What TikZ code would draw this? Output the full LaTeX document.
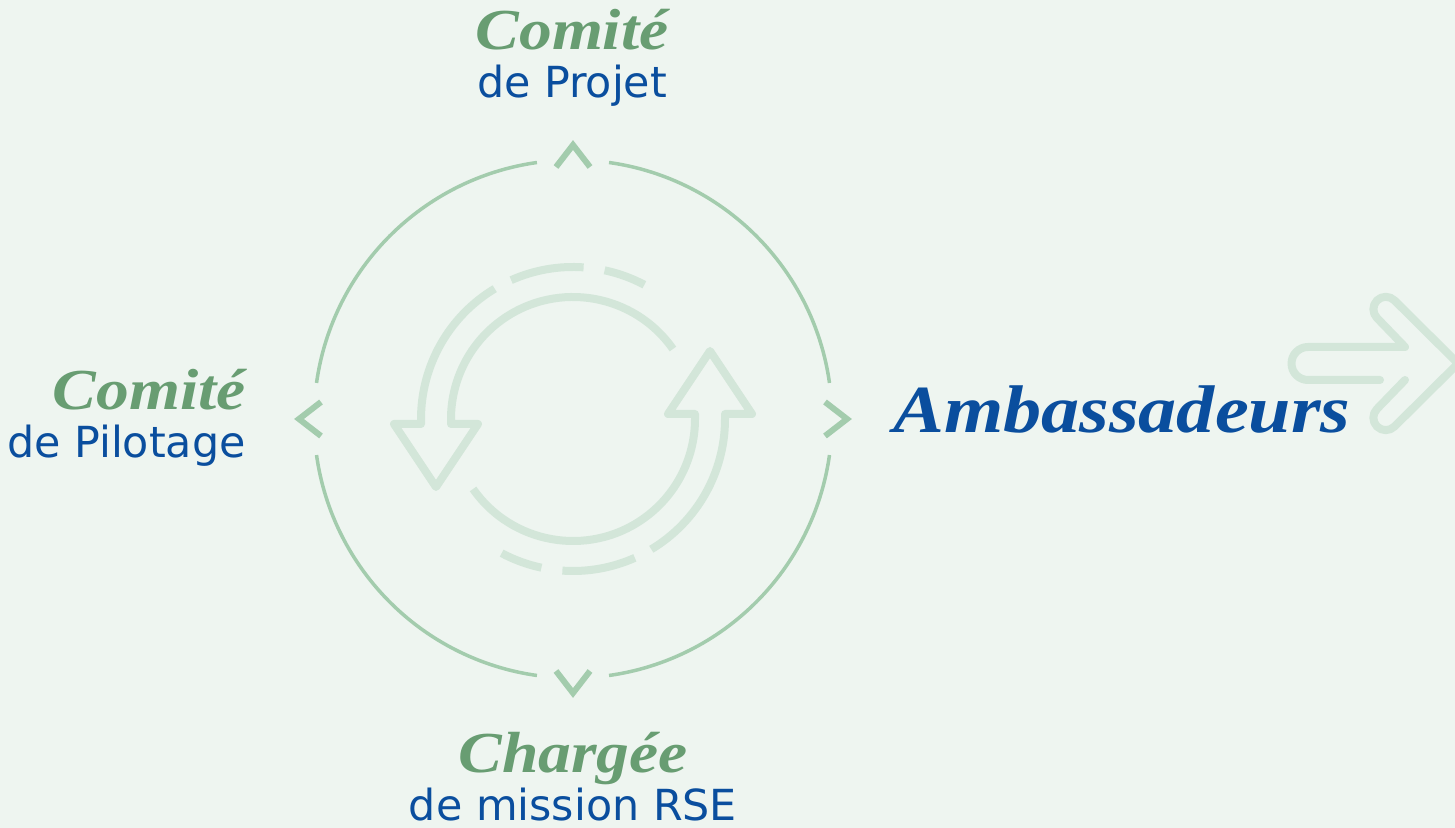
\documentclass[tikz,border=0pt]{standalone}
\usepackage{fontspec}
\setmainfont{DejaVu Sans}
\newfontfamily\titrefont[FakeStretch=1.13]{Liberation Serif}
\usetikzlibrary{calc,positioning}
\definecolor{fond}{HTML}{EEF5F0}
\definecolor{cercle}{HTML}{A3CCAD}
\definecolor{pale}{HTML}{D3E6D9}
\definecolor{vert}{HTML}{689D72}
\definecolor{bleu}{HTML}{0A4E9E}
\tikzset{
titre/.style={font=\titrefont\bfseries\itshape\fontsize{29}{34}\selectfont, text=vert, inner sep=0pt}, % green serif word
soustitre/.style={font=\fontsize{21.4}{25}\selectfont, text=bleu, inner sep=0pt}, % blue sans line
cercle/.style={draw=cercle, line width=1.75pt},
chevron/.style={draw=cercle, line width=3pt, line join=miter},
boucle/.style={draw=pale, line width=4pt, line join=round},
grandefleche/.style={draw=pale, line width=4pt, line join=round, line cap=round},
}

\begin{document}
\begin{tikzpicture}[x=0.5pt,y=0.5pt]
   \useasboundingbox[fill=fond] (0,0) rectangle (1455,828);
   \coordinate (centre) at (573,409);
   % big circle with its four chevrons
   \foreach \a in {0,90,180,270}{
      \draw[cercle] (centre) ++(\a+8:259) arc[start angle=\a+8, end angle=\a+82, radius=259];
      \draw[chevron] ($(centre)+(\a:252)+(\a+90:17)$) -- ($(centre)+(\a:274)$) -- ($(centre)+(\a:252)+(\a-90:17)$);
   }
   % the two turning arrows
   \foreach \r in {0,180}{
      \begin{scope}[shift={(centre)}, rotate=\r]
         \draw[boucle] (35:122) arc[start angle=35, end angle=180, radius=122]
            -- (-122,-5) -- (-95,-5) -- (-137,-68) -- (-179,-5) -- (-152,-5) -- (-152,0)
            arc[start angle=180, end angle=121, radius=152];
         \draw[boucle] (114:152) arc[start angle=114, end angle=86, radius=152];
         \draw[boucle] (78:152) arc[start angle=78, end angle=62, radius=152];
      \end{scope}
   }
   % arrow on the right
   \draw[grandefleche] (1380,448) -- (1308,448) arc[start angle=270, end angle=90, radius=16.5]
      -- (1405,481) -- (1377,510) arc[start angle=225, end angle=45, radius=12.4]
      -- (1458,464.5) -- (1394.5,401.5) arc[start angle=-45, end angle=-225, radius=12.4]
      -- (1405,448);
   % labels
   \node[titre, anchor=base] (comiteProjet) at (572,778) {Comité};
   \node[soustitre, below=24pt of comiteProjet.base, anchor=base] (deProjet) {de Projet};
   \node[titre, anchor=base east] (comitePilotage) at (246,418) {Comité};
   \node[soustitre, below=24pt of comitePilotage.base east, anchor=base east] (dePilotage) {de Pilotage};
   \node[titre, anchor=base] (chargee) at (573,55) {Chargée};
   \node[soustitre, below=24pt of chargee.base, anchor=base] (mission) {de mission RSE};
   \node[titre, text=bleu, font=\titrefont\bfseries\itshape\fontsize{33.7}{40}\selectfont, anchor=base west] (ambassadeurs) at (893,395) {Ambassadeurs};
\end{tikzpicture}
\end{document}
